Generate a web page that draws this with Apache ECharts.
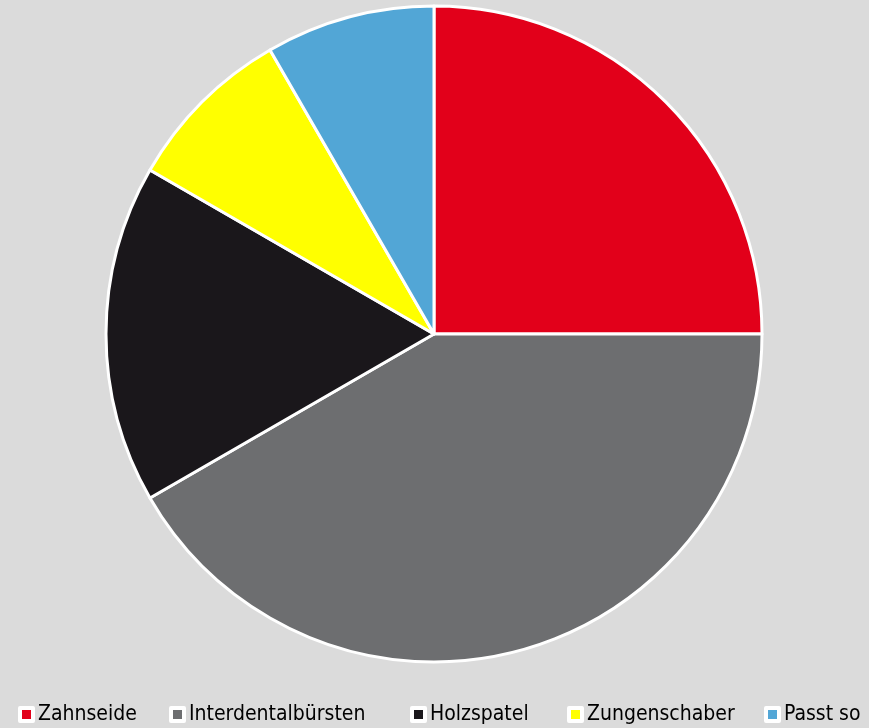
<!DOCTYPE html>
<html>
<head>
<meta charset="utf-8">
<script src="https://cdn.jsdelivr.net/npm/echarts@6/dist/echarts.min.js"></script>
<style>
  html, body { margin: 0; padding: 0; background: #dbdbdb; }
  #chart { width: 869px; height: 728px; }
</style>
</head>
<body>
<div id="chart"></div>
<script>
var categories = ['Zahnseide', 'Interdentalbürsten', 'Holzspatel', 'Zungenschaber', 'Passt so'];
var values = [3, 5, 2, 1, 1];
var colors = ['#e2001a', '#6d6e70', '#1a171b', '#ffff00', '#52a6d6'];
var legendLeft = [18, 169, 410, 567, 764];

var chart = echarts.init(document.getElementById('chart'));

var data = categories.map(function (name, i) {
    return { name: name, value: values[i], itemStyle: { color: colors[i] } };
});

// one legend per entry so each sits where the original put it
var legends = categories.map(function (name, i) {
    return {
        left: legendLeft[i],
        top: 704,
        padding: 0,
        icon: 'rect',
        itemWidth: 13,
        itemHeight: 13,
        itemStyle: { borderColor: '#ffffff', borderWidth: 4 },
        textStyle: {
            fontFamily: '"Liberation Sans Narrow", "DejaVu Sans Condensed", sans-serif',
            fontSize: 21,
            color: '#000000'
        },
        data: [name]
    };
});

var option = {
    backgroundColor: '#dbdbdb',
    animation: false,
    legend: legends,
    series: [
        {
            type: 'pie',
            center: [434, 334],
            radius: 328,
            startAngle: 90,
            clockwise: true,
            label: { show: false },
            labelLine: { show: false },
            itemStyle: { borderColor: '#ffffff', borderWidth: 3 },
            data: data
        }
    ]
};

chart.setOption(option);
</script>
</body>
</html>
